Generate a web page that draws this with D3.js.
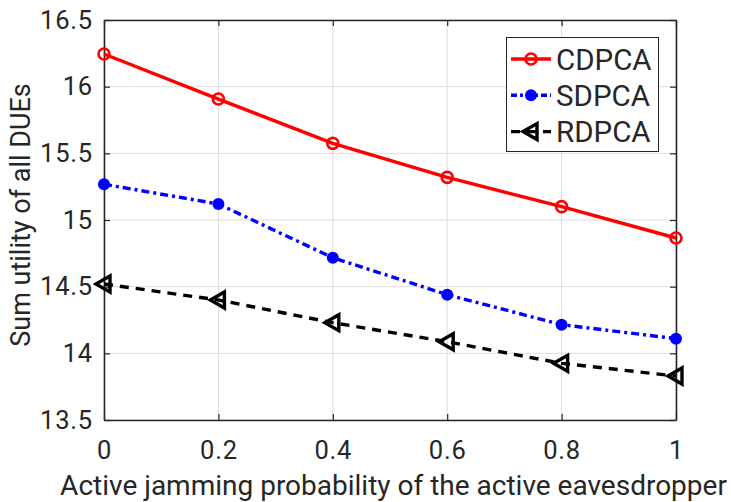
<!DOCTYPE html>
<html><head><meta charset="utf-8">
<script src="https://cdn.jsdelivr.net/npm/d3@7"></script>
<style>body{margin:0;background:#fff}svg{display:block}text{font-family:Roboto,"Liberation Sans",sans-serif;fill:#262626}</style>
</head><body>
<svg id="c" width="731" height="502"></svg>
<script>
const xValues = [0, 0.2, 0.4, 0.6, 0.8, 1];
const cdpca = [16.245, 15.907, 15.575, 15.32, 15.10, 14.865];
const sdpca = [15.268, 15.12, 14.717, 14.44, 14.215, 14.11];
const rdpca = [14.52, 14.40, 14.23, 14.087, 13.925, 13.83];
const xTicks = [0, 0.2, 0.4, 0.6, 0.8, 1];
const yTicks = [13.5, 14, 14.5, 15, 15.5, 16, 16.5];
const seriesNames = ["CDPCA", "SDPCA", "RDPCA"];

const svg = d3.select("#c");
const L = 104, R = 676, T = 20, B = 420;
const x = d3.scaleLinear().domain([0, 1]).range([L, R]);
const y = d3.scaleLinear().domain([13.5, 16.5]).range([B, T]);

// grid
const g = svg.append("g");
g.selectAll(".gx").data(xTicks).enter().append("line")
  .attr("x1", d => x(d)).attr("x2", d => x(d)).attr("y1", T).attr("y2", B)
  .attr("stroke", "#dcdcdc").attr("stroke-width", 1);
g.selectAll(".gy").data(yTicks).enter().append("line")
  .attr("y1", d => y(d)).attr("y2", d => y(d)).attr("x1", L).attr("x2", R)
  .attr("stroke", "#dcdcdc").attr("stroke-width", 1);

// axes
const fs = 25.5;
const xAxis = svg.append("g").attr("transform", `translate(0,${B})`)
  .call(d3.axisBottom(x).tickValues(xTicks).tickFormat(d3.format("")).tickSizeInner(-6).tickSizeOuter(0).tickPadding(21));
const yAxis = svg.append("g").attr("transform", `translate(${L},0)`)
  .call(d3.axisLeft(y).tickValues(yTicks).tickFormat(d3.format("")).tickSizeInner(-6).tickSizeOuter(0).tickPadding(11));
const xTop = svg.append("g").attr("transform", `translate(0,${T})`)
  .call(d3.axisTop(x).tickValues(xTicks).tickFormat("").tickSizeInner(-6).tickSizeOuter(0));
const yRight = svg.append("g").attr("transform", `translate(${R},0)`)
  .call(d3.axisRight(y).tickValues(yTicks).tickFormat("").tickSizeInner(-6).tickSizeOuter(0));
[xAxis, yAxis, xTop, yRight].forEach(a => {
  a.selectAll("path").attr("stroke", "#262626").attr("stroke-width", 1.6);
  a.selectAll("line").attr("stroke", "#262626").attr("stroke-width", 1.2);
  a.selectAll("text").attr("font-size", fs).attr("fill", "#262626")
    .style("font-family", "Roboto").style("letter-spacing", "0.8px");
});
xAxis.selectAll("text").attr("dy", "0.71em");

// axis labels
svg.append("text").attr("x", 393.5).attr("y", 495).attr("text-anchor", "middle")
  .attr("font-size", 28).text("Active jamming probability of the active eavesdropper");
svg.append("text").attr("transform", `translate(30,215) rotate(-90)`)
  .attr("text-anchor", "middle").attr("font-size", 27).text("Sum utility of all DUEs");

// series
const line = d3.line().x((d, i) => x(xValues[i])).y(d => y(d));
const series = [
  {name: seriesNames[0], data: cdpca, color: "#ff0000", dash: null, marker: "circleOpen"},
  {name: seriesNames[1], data: sdpca, color: "#0000ff", dash: "8,4,3,4", marker: "circleFilled"},
  {name: seriesNames[2], data: rdpca, color: "#000000", dash: "9,7", marker: "triangle"}
];
function drawMarker(sel, m, color) {
  if (m === "circleOpen") {
    sel.append("circle").attr("r", 5.5).attr("fill", "none").attr("stroke", color).attr("stroke-width", 2.6);
  } else if (m === "circleFilled") {
    sel.append("circle").attr("r", 6).attr("fill", color);
  } else {
    sel.append("path").attr("d", "M-8,0 L6,-8 L6,8 Z").attr("fill", "none")
      .attr("stroke", color).attr("stroke-width", 3.4).attr("stroke-linejoin", "miter");
  }
}
series.forEach(s => {
  svg.append("path").datum(s.data).attr("d", line).attr("fill", "none")
    .attr("stroke", s.color).attr("stroke-width", 3.4)
    .attr("stroke-dasharray", s.dash);
  s.data.forEach((v, i) => {
    const mg = svg.append("g").attr("transform", `translate(${x(xValues[i])},${y(v)})`);
    drawMarker(mg, s.marker, s.color);
  });
});

// legend
const lg = svg.append("g");
lg.append("rect").attr("x", 506.5).attr("y", 37.5).attr("width", 152).attr("height", 114)
  .attr("fill", "#fff").attr("stroke", "#262626").attr("stroke-width", 1);
series.forEach((s, i) => {
  const cy = 59 + i * 36.3;
  lg.append("line").attr("x1", 511).attr("x2", 551).attr("y1", cy).attr("y2", cy)
    .attr("stroke", s.color).attr("stroke-width", 3.4).attr("stroke-dasharray", s.dash ? (i === 1 ? "6,3,3,3" : "9,7") : null);
  const mg = lg.append("g").attr("transform", `translate(531,${cy})`);
  drawMarker(mg, s.marker, s.color);
  lg.append("text").attr("x", 556).attr("y", cy).attr("dy", "0.36em").attr("font-size", 29.5)
    .attr("fill", "#000").text(s.name);
});
</script>
</body></html>
